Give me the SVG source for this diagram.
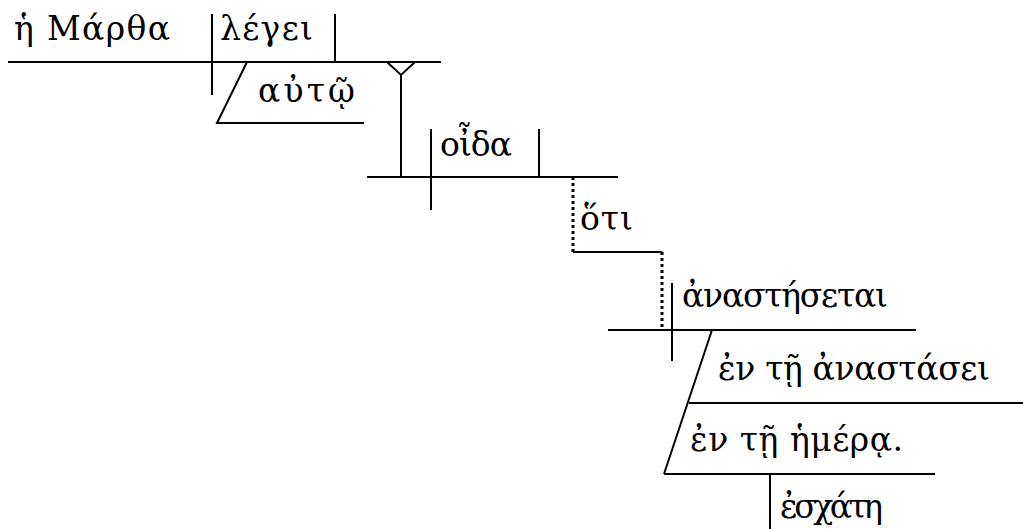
<svg xmlns="http://www.w3.org/2000/svg" width="1023" height="529" viewBox="0 0 1023 529">
<style>
.l{stroke:#000;stroke-width:2;fill:none}
.d{stroke:#000;stroke-width:3;stroke-dasharray:3,3;fill:none}
text{font-family:"DejaVu Serif","Liberation Serif",serif;font-size:33px;fill:#000}
</style>
<rect width="1023" height="529" fill="#fff"/>
<g id="subject"><text x="14" y="40" textLength="156" lengthAdjust="spacing">ἡ Μάρθα</text></g>
<g id="verb1"><text x="220" y="40" textLength="93" lengthAdjust="spacing">λέγει</text></g>
<g id="io"><text x="258" y="102" textLength="97" lengthAdjust="spacing">αὐτῷ</text></g>
<g id="verb2"><text x="440" y="156" textLength="72" lengthAdjust="spacing">οἶδα</text></g>
<g id="conj"><text x="580" y="230" textLength="53" lengthAdjust="spacing">ὅτι</text></g>
<g id="verb3"><text x="682" y="307" textLength="206" lengthAdjust="spacing">ἀναστήσεται</text></g>
<g id="pp1"><text x="718" y="380" textLength="272" lengthAdjust="spacing">ἐν τῇ ἀναστάσει</text></g>
<g id="pp2"><text x="690" y="451" textLength="213" lengthAdjust="spacing">ἐν τῇ ἡμέρᾳ.</text></g>
<g id="adj"><text x="780" y="518" textLength="103" lengthAdjust="spacing">ἐσχάτη</text></g>
<g id="connectors">
<path class="l" d="M8 62H441M212 14V95M335 14V62"/>
<path class="l" d="M247 62L217 123H364"/>
<path class="l" d="M387 62L401 75L415 62M401 75V177"/>
<path class="l" d="M367 177H618M431 129V210M539 129V177"/>
<path class="d" d="M573 177V252"/>
<path class="l" d="M573 252H662"/>
<path class="d" d="M662 252V330"/>
<path class="l" d="M608 330H916M672 283V361"/>
<path class="l" d="M712 330L664 474M689 403H1023M664 474H935M770 474V529"/>
</g>
</svg>
